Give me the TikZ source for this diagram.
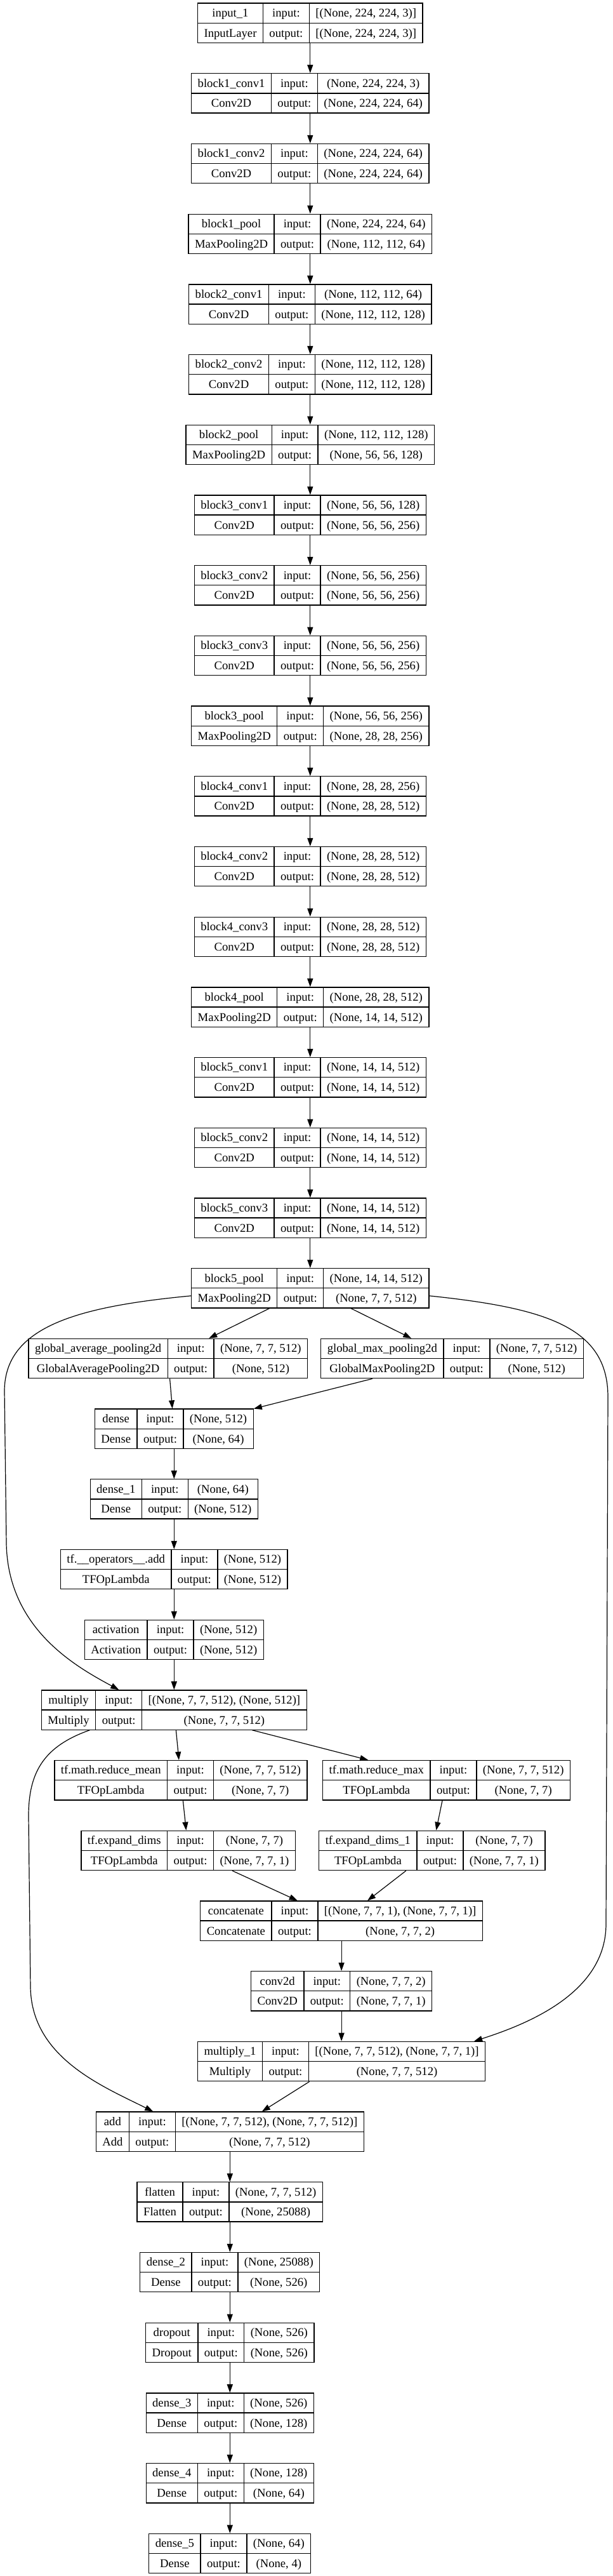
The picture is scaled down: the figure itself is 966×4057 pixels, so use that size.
\documentclass[tikz,border=0pt]{standalone}
\usepackage{fontspec}
\setmainfont{Liberation Serif}
\usepackage{tikz}
\usetikzlibrary{arrows.meta}
\setlength{\arrayrulewidth}{1.3pt}
\setlength{\tabcolsep}{10pt}
\newcommand{\lay}[4]{\begin{tabular}{c|c|c}#1 & input: & #3\\\hline #2 & output: & #4\end{tabular}}
\tikzset{lyr/.style={draw,line width=1.3pt,inner sep=0pt,font=\fontsize{18.67}{30.5}\selectfont}}

\begin{document}
\begin{tikzpicture}[x=1pt,y=-1pt,>={Triangle[length=13pt,width=9pt]},line width=1.2pt]
\useasboundingbox (0,0) rectangle (966,4057);
% vgg16 backbone
\node[lyr] (inp) at (488.8,36.2) {\lay{input\_1}{InputLayer}{[(None, 224, 224, 3)]}{[(None, 224, 224, 3)]}};
\node[lyr] (b1c1) at (488.8,146.9) {\lay{block1\_conv1}{Conv2D}{(None, 224, 224, 3)}{(None, 224, 224, 64)}};
\node[lyr] (b1c2) at (488.8,257.6) {\lay{block1\_conv2}{Conv2D}{(None, 224, 224, 64)}{(None, 224, 224, 64)}};
\node[lyr] (b1p) at (488.8,368.3) {\lay{block1\_pool}{MaxPooling2D}{(None, 224, 224, 64)}{(None, 112, 112, 64)}};
\node[lyr] (b2c1) at (488.8,479.0) {\lay{block2\_conv1}{Conv2D}{(None, 112, 112, 64)}{(None, 112, 112, 128)}};
\node[lyr] (b2c2) at (488.8,589.7) {\lay{block2\_conv2}{Conv2D}{(None, 112, 112, 128)}{(None, 112, 112, 128)}};
\node[lyr] (b2p) at (488.8,700.4) {\lay{block2\_pool}{MaxPooling2D}{(None, 112, 112, 128)}{(None, 56, 56, 128)}};
\node[lyr] (b3c1) at (488.8,811.1) {\lay{block3\_conv1}{Conv2D}{(None, 56, 56, 128)}{(None, 56, 56, 256)}};
\node[lyr] (b3c2) at (488.8,921.8) {\lay{block3\_conv2}{Conv2D}{(None, 56, 56, 256)}{(None, 56, 56, 256)}};
\node[lyr] (b3c3) at (488.8,1032.5) {\lay{block3\_conv3}{Conv2D}{(None, 56, 56, 256)}{(None, 56, 56, 256)}};
\node[lyr] (b3p) at (488.8,1143.2) {\lay{block3\_pool}{MaxPooling2D}{(None, 56, 56, 256)}{(None, 28, 28, 256)}};
\node[lyr] (b4c1) at (488.8,1253.9) {\lay{block4\_conv1}{Conv2D}{(None, 28, 28, 256)}{(None, 28, 28, 512)}};
\node[lyr] (b4c2) at (488.8,1364.6) {\lay{block4\_conv2}{Conv2D}{(None, 28, 28, 512)}{(None, 28, 28, 512)}};
\node[lyr] (b4c3) at (488.8,1475.3) {\lay{block4\_conv3}{Conv2D}{(None, 28, 28, 512)}{(None, 28, 28, 512)}};
\node[lyr] (b4p) at (488.8,1586.0) {\lay{block4\_pool}{MaxPooling2D}{(None, 28, 28, 512)}{(None, 14, 14, 512)}};
\node[lyr] (b5c1) at (488.8,1696.7) {\lay{block5\_conv1}{Conv2D}{(None, 14, 14, 512)}{(None, 14, 14, 512)}};
\node[lyr] (b5c2) at (488.8,1807.4) {\lay{block5\_conv2}{Conv2D}{(None, 14, 14, 512)}{(None, 14, 14, 512)}};
\node[lyr] (b5c3) at (488.8,1918.1) {\lay{block5\_conv3}{Conv2D}{(None, 14, 14, 512)}{(None, 14, 14, 512)}};
\node[lyr] (b5p) at (488.8,2028.8) {\lay{block5\_pool}{MaxPooling2D}{(None, 14, 14, 512)}{(None, 7, 7, 512)}};
% channel attention
\node[lyr] (gap) at (264.9,2139.5) {\lay{global\_average\_pooling2d}{GlobalAveragePooling2D}{(None, 7, 7, 512)}{(None, 512)}};
\node[lyr] (gmp) at (712.6,2139.5) {\lay{global\_max\_pooling2d}{GlobalMaxPooling2D}{(None, 7, 7, 512)}{(None, 512)}};
\node[lyr] (dns) at (274.3,2250.2) {\lay{dense}{Dense}{(None, 512)}{(None, 64)}};
\node[lyr] (dns1) at (274.3,2360.9) {\lay{dense\_1}{Dense}{(None, 64)}{(None, 512)}};
\node[lyr] (tfadd) at (274.3,2471.6) {\lay{tf.\_\_operators\_\_.add}{TFOpLambda}{(None, 512)}{(None, 512)}};
\node[lyr] (actv) at (274.3,2582.3) {\lay{activation}{Activation}{(None, 512)}{(None, 512)}};
\node[lyr] (mult) at (274.3,2693.0) {\lay{multiply}{Multiply}{[(None, 7, 7, 512), (None, 512)]}{(None, 7, 7, 512)}};
% spatial attention
\node[lyr] (rmean) at (285.0,2803.7) {\lay{tf.math.reduce\_mean}{TFOpLambda}{(None, 7, 7, 512)}{(None, 7, 7)}};
\node[lyr] (rmax) at (703.6,2803.7) {\lay{tf.math.reduce\_max}{TFOpLambda}{(None, 7, 7, 512)}{(None, 7, 7)}};
\node[lyr] (expd) at (296.7,2914.4) {\lay{tf.expand\_dims}{TFOpLambda}{(None, 7, 7)}{(None, 7, 7, 1)}};
\node[lyr] (expd1) at (680.8,2914.4) {\lay{tf.expand\_dims\_1}{TFOpLambda}{(None, 7, 7)}{(None, 7, 7, 1)}};
\node[lyr] (cat) at (538.1,3025.1) {\lay{concatenate}{Concatenate}{[(None, 7, 7, 1), (None, 7, 7, 1)]}{(None, 7, 7, 2)}};
\node[lyr] (conv) at (538.1,3135.8) {\lay{conv2d}{Conv2D}{(None, 7, 7, 2)}{(None, 7, 7, 1)}};
\node[lyr] (mult1) at (538.1,3246.5) {\lay{multiply\_1}{Multiply}{[(None, 7, 7, 512), (None, 7, 7, 1)]}{(None, 7, 7, 512)}};
% head
\node[lyr] (add) at (362.3,3357.2) {\lay{add}{Add}{[(None, 7, 7, 512), (None, 7, 7, 512)]}{(None, 7, 7, 512)}};
\node[lyr] (flat) at (362.3,3467.9) {\lay{flatten}{Flatten}{(None, 7, 7, 512)}{(None, 25088)}};
\node[lyr] (dns2) at (362.3,3578.6) {\lay{dense\_2}{Dense}{(None, 25088)}{(None, 526)}};
\node[lyr] (drop) at (362.3,3689.3) {\lay{dropout}{Dropout}{(None, 526)}{(None, 526)}};
\node[lyr] (dns3) at (362.3,3800.0) {\lay{dense\_3}{Dense}{(None, 526)}{(None, 128)}};
\node[lyr] (dns4) at (362.3,3910.7) {\lay{dense\_4}{Dense}{(None, 128)}{(None, 64)}};
\node[lyr] (dns5) at (362.3,4021.4) {\lay{dense\_5}{Dense}{(None, 64)}{(None, 4)}};

\foreach \a/\b in {inp/b1c1,b1c1/b1c2,b1c2/b1p,b1p/b2c1,b2c1/b2c2,b2c2/b2p,b2p/b3c1,b3c1/b3c2,b3c2/b3c3,b3c3/b3p,b3p/b4c1,b4c1/b4c2,b4c2/b4c3,b4c3/b4p,b4p/b5c1,b5c1/b5c2,b5c2/b5c3,b5c3/b5p,b5p/gap,b5p/gmp,gap/dns,gmp/dns,dns/dns1,dns1/tfadd,tfadd/actv,actv/mult,mult/rmean,mult/rmax,rmean/expd,rmax/expd1,expd/cat,expd1/cat,cat/conv,conv/mult1,mult1/add,add/flat,flat/dns2,dns2/drop,drop/dns3,dns3/dns4,dns4/dns5}
  \draw[->] (\a) -- (\b);
% skip connections
\draw[->] ([yshift=-12pt]b5p.west) .. controls (120,2058) and (8,2090) .. (7,2190) -- (10,2430) .. controls (12,2565) and (120,2625) .. ([xshift=-87pt]mult.north);
\draw[->] ([yshift=-12pt]b5p.east) .. controls (860,2060) and (958,2090) .. (958,2200) -- (955,3030) .. controls (955,3135) and (840,3185) .. ([xshift=209pt]mult1.north);
\draw[->] ([xshift=-133pt]mult.south) .. controls (70,2750) and (45,2790) .. (45,2860) -- (48,3130) .. controls (50,3240) and (160,3285) .. ([xshift=-121pt]add.north);
\end{tikzpicture}
\end{document}
